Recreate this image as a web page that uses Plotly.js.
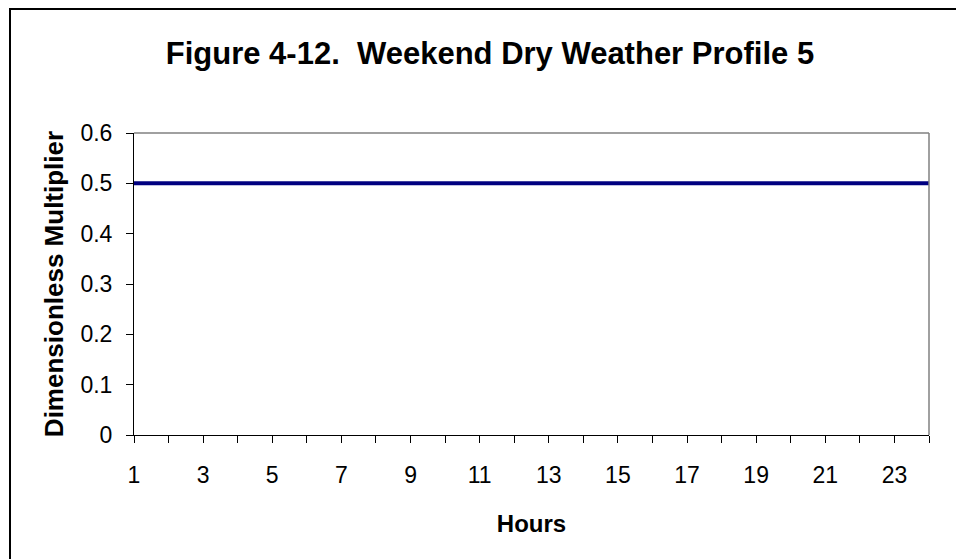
<!DOCTYPE html>
<html>
<head>
<meta charset="utf-8">
<script src="https://cdn.plot.ly/plotly-3.0.1.min.js"></script>
<style>
html,body{margin:0;padding:0;background:#fff;overflow:hidden;}
#wrap{position:relative;width:956px;height:559px;overflow:hidden;}
#frameTop{position:absolute;left:9px;top:8px;width:960px;height:2px;background:#000;pointer-events:none;}
#frameLeft{position:absolute;left:9px;top:8px;width:2px;height:560px;background:#000;pointer-events:none;}
#chart{position:absolute;left:0;top:0;width:956px;height:559px;}
</style>
</head>
<body>
<div id="wrap">
<div id="chart"></div>
<div id="frameTop"></div>
<div id="frameLeft"></div>
</div>
<script>
// Data
const hours = [1,2,3,4,5,6,7,8,9,10,11,12,13,14,15,16,17,18,19,20,21,22,23,24];
const multiplier = [0.5,0.5,0.5,0.5,0.5,0.5,0.5,0.5,0.5,0.5,0.5,0.5,0.5,0.5,0.5,0.5,0.5,0.5,0.5,0.5,0.5,0.5,0.5,0.5];
const xTickValues = [1,2,3,4,5,6,7,8,9,10,11,12,13,14,15,16,17,18,19,20,21,22,23,24];
const xTickLabels = ["1","","3","","5","","7","","9","","11","","13","","15","","17","","19","","21","","23",""];
const yTickValues = [0,0.1,0.2,0.3,0.4,0.5,0.6];
const yTickLabels = ["0","0.1","0.2","0.3","0.4","0.5","0.6"];

const titleText = "Figure 4-12.  Weekend Dry Weather Profile 5";
const xTitle = "Hours";
const yTitle = "Dimensionless Multiplier";

const FONT = "Liberation Sans, Arial, sans-serif";

const trace = {
  x: hours,
  y: multiplier,
  type: "scatter",
  mode: "lines",
  line: {color: "#000080", width: 4},
  hoverinfo: "skip",
  showlegend: false
};

const layout = {
  width: 956,
  height: 559,
  margin: {l: 134, r: 27, t: 133, b: 124, pad: 0},
  paper_bgcolor: "rgba(255,255,255,0)",
  plot_bgcolor: "#ffffff",
  font: {family: FONT, color: "#000000"},
  title: {
    text: "<b>" + titleText + "</b>",
    font: {family: FONT, size: 31, color: "#000000"},
    x: 0.5125, xref: "container", xanchor: "center",
    y: 0.905, yref: "container", yanchor: "middle"
  },
  xaxis: {
    type: "linear",
    range: [1, 24],
    tickmode: "array",
    tickvals: xTickValues,
    ticktext: xTickLabels,
    ticks: "outside",
    ticklen: 7,
    tickwidth: 1,
    tickcolor: "#000000",
    showgrid: false,
    zeroline: false,
    showline: true,
    linecolor: "#000000",
    linewidth: 1,
    tickfont: {family: FONT, size: 23, color: "#000000"},
    ticklabelstandoff: 12,
    title: {text: "<b>" + xTitle + "</b>", font: {family: FONT, size: 24, color: "#000000"}, standoff: 28},
    fixedrange: true
  },
  yaxis: {
    range: [0, 0.6],
    tickmode: "array",
    tickvals: yTickValues,
    ticktext: yTickLabels,
    ticks: "outside",
    ticklen: 7,
    tickwidth: 1,
    tickcolor: "#000000",
    showgrid: false,
    zeroline: false,
    showline: true,
    linecolor: "#000000",
    linewidth: 1,
    tickfont: {family: FONT, size: 23, color: "#000000"},
    ticklabelstandoff: 9,
    title: {text: "<b>" + yTitle + "</b>", font: {family: FONT, size: 26, color: "#000000"}, standoff: 9},
    fixedrange: true
  },
  shapes: [
    // plot-area border top & right (gray)
    {type: "line", xref: "paper", yref: "paper", x0: 0, x1: 1, y0: 1, y1: 1, line: {color: "#808080", width: 1.5}},
    {type: "line", xref: "paper", yref: "paper", x0: 1, x1: 1, y0: 0, y1: 1, line: {color: "#808080", width: 1.5}}
  ]
};

Plotly.newPlot("chart", [trace], layout, {displayModeBar: false, staticPlot: true});
</script>
</body>
</html>
